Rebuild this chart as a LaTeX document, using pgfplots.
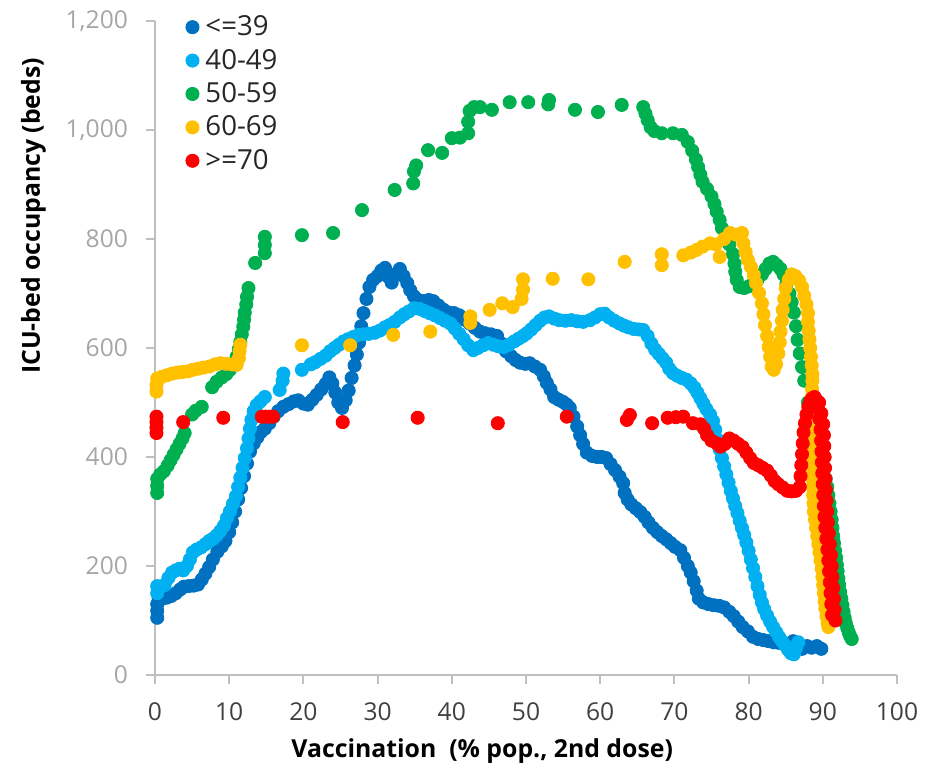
\documentclass[border=0pt]{standalone}
\usepackage{fontspec}
\setmainfont{Open Sans}
\usepackage{pgfplots}
\pgfplotsset{compat=1.18}
\definecolor{cA}{HTML}{0070C0}
\definecolor{cB}{HTML}{00B0F0}
\definecolor{cC}{HTML}{00B050}
\definecolor{cD}{HTML}{FFC000}
\definecolor{cE}{HTML}{FF0000}
\definecolor{axisgray}{HTML}{BFBFBF}
\definecolor{ytickgray}{HTML}{A6A6A6}
\definecolor{xtickgray}{HTML}{404040}
\newcommand{\tickfont}{\fontsize{12.3}{14.8}\selectfont}
\newcommand{\legfont}{\fontsize{13.8}{16}\selectfont}
\newcommand{\labelfont}{\fontsize{12.4}{15}\selectfont\bfseries}
\pgfplotsset{dots/.style={only marks, mark=*, mark size=3.3pt, color=#1, mark options={draw=none, fill=#1}}}

\begin{document}
\begin{tikzpicture}
\begin{axis}[
  scale only axis, width=371pt, height=327pt,
  xmin=0, xmax=100, ymin=0, ymax=1200,
  xtick={0,10,...,100}, ytick={0,200,...,1200},
  scaled y ticks=false,
  axis x line*=bottom, axis y line*=left,
  axis line style={draw=axisgray, line width=1pt},
  tick style={draw=axisgray, line width=1pt},
  tick align=outside, major tick length=4.5pt,
  x tick label style={font=\tickfont, text=xtickgray, yshift=-6pt},
  y tick label style={font=\tickfont, text=ytickgray, xshift=-5.5pt},
  /pgf/number format/1000 sep={,},
  /pgf/number format/assume math mode=true,
  xlabel={Vaccination\ \ (\% pop., 2nd dose)},
  ylabel={ICU-bed occupancy (beds)},
  label style={font=\labelfont},
  xlabel style={at={(axis description cs:0.441,-0.117)}, anchor=center},
  ylabel style={at={(axis description cs:-0.164,0.702)}, anchor=center},
  clip=false,
  legend style={at={(axis description cs:0.033,1.021)}, anchor=north west, draw=none, fill=none,
    font=\legfont, text=black!85, row sep=1.2pt, cells={anchor=west}},
  legend image code/.code={\draw[#1] plot coordinates {(0pt,0pt)}; \path[draw=none, fill=none] (0pt,0pt) rectangle (4.5pt,0.1pt);},
]
% <=39
\addplot[dots=cA] coordinates {
(0.3,105) (0.3,118) (0.3,130) (0.5,140) (1,140) (1.6,142) (2.2,145) (2.8,150) (3.4,157) (3.9,162)
(4.5,163) (5.2,164) (5.8,166) (6.3,175) (6.8,186) (7.3,198) (7.8,212) (8.4,226) (9,236) (9.5,246)
(10,262) (10.4,280) (10.8,300) (11.2,322) (11.6,343) (12,365) (12.4,388) (12.8,410) (13.3,425) (13.8,436)
(14.3,446) (14.8,452) (15.4,462) (16,474) (16.6,484) (17.3,492) (18,497) (18.7,502) (19.3,504) (20,498)
(20.6,496) (21.2,505) (21.8,514) (22.4,524) (23,534) (23.5,546) (23.9,535) (24.3,518) (24.7,500) (25.2,490)
(25.7,504) (26.1,522) (26.5,545) (26.9,568) (27.2,588) (27.5,610) (27.8,640) (28.1,664) (28.5,690) (28.9,712)
(29.4,725) (30,732) (30.5,742) (31,747) (31.5,730) (31.9,720) (32.4,735) (33,745) (33.5,732) (34,719)
(34.4,706) (34.9,695) (35.5,688) (36.2,686) (36.9,688) (37.5,686) (38.2,678) (38.9,670) (39.6,665) (40.3,664)
(41,660) (41.7,652) (42.4,645) (43.1,637) (43.8,630) (44.5,627) (45.3,625) (46.1,622) (46.7,608) (47.3,594)
(48,585) (48.6,578) (49.2,573) (49.9,571) (50.5,572) (51.2,566) (51.9,560) (52.4,548) (52.8,536) (53.3,524)
(53.8,510) (54.4,505) (55,501) (55.5,496) (55.9,490) (56.4,474) (56.9,456) (57.3,440) (57.7,424) (58.2,408)
(58.9,402) (59.6,400) (60.2,400) (60.8,398) (61.4,387) (62,376) (62.6,364) (63.1,352) (63.3,334) (63.7,322)
(64.2,313) (64.8,306) (65.4,299) (66,290) (66.5,280) (67.1,270) (67.7,262) (68.3,255) (68.9,249) (69.5,242)
(70.1,235) (70.8,229) (71.3,215) (71.8,200) (72.2,188) (72.6,172) (73,155) (73.3,140) (73.9,133) (74.6,130)
(75.3,128) (76,127) (76.7,124) (77.4,116) (78,108) (78.6,98) (79.2,88) (79.9,80) (80.6,70) (81.3,66)
(82,64) (82.7,62) (83.4,60) (84.1,59) (84.8,57) (85.4,55) (86,62) (86.5,50) (87.2,48) (87.9,53)
(88.5,50) (89.2,53) (89.8,48)
};
\addlegendentry{<=39}
% 40-49
\addplot[dots=cB] coordinates {
(0.3,150) (0.3,163) (0.8,162) (1.3,165) (1.8,178) (2.3,188) (2.8,192) (3.3,195) (3.8,192) (4.3,200)
(4.7,212) (5.1,225) (5.6,230) (6.2,234) (6.8,240) (7.3,246) (7.8,250) (8.3,256) (8.8,264) (9.3,274)
(9.7,288) (10.1,300) (10.5,314) (10.9,328) (11.2,345) (11.5,362) (11.8,380) (12.1,398) (12.4,416) (12.6,434)
(12.8,452) (13,468) (13.3,484) (13.7,495) (14.2,502) (14.8,510) (16.8,523) (17.2,540) (17.3,553) (19.8,560)
(21,570) (21.6,574) (22.3,580) (23,586) (23.6,594) (24.2,600) (24.8,606) (25.4,612) (26,616) (26.7,620)
(27.4,624) (28.1,625) (28.8,626) (29.6,628) (30.3,632) (31,638) (31.6,642) (32.3,648) (33,656) (33.6,662)
(34.2,667) (34.9,673) (35.6,672) (36.3,668) (37,664) (37.7,660) (38.4,655) (39.1,650) (39.8,645) (40.4,636)
(41,626) (41.6,616) (42.2,605) (42.9,596) (43.5,600) (44.2,605) (44.9,609) (45.6,606) (46.3,603) (47,602)
(47.7,606) (48.4,612) (49,617) (49.6,622) (50.1,627) (50.7,634) (51.3,642) (51.9,650) (52.5,656) (53.1,658)
(53.8,654) (54.5,651) (55.3,650) (56.1,651) (56.9,649) (57.7,648) (58.6,651) (59.3,656) (60,662) (60.6,663)
(61.2,656) (61.9,650) (62.6,645) (63.2,641) (63.8,638) (64.5,635) (65.2,634) (65.8,633) (66.4,622) (66.9,608)
(67.4,597) (67.9,589) (68.4,581) (68.9,573) (69.3,562) (69.8,554) (70.4,549) (71,545) (71.6,542) (72.2,535)
(72.7,527) (73.1,518) (73.5,508) (73.9,498) (74.3,488) (74.8,478) (75.2,466) (75.5,450) (75.8,432) (76.1,414)
(76.4,398) (76.7,383) (77,368) (77.3,353) (77.6,338) (77.9,324) (78.2,310) (78.5,297) (78.8,283) (79.1,270)
(79.4,257) (79.7,243) (80,228) (80.3,212) (80.6,196) (80.9,180) (81.2,163) (81.5,147) (81.8,133) (82.1,121)
(82.5,109) (82.9,98) (83.3,88) (83.7,79) (84.1,70) (84.5,62) (84.9,55) (85.3,47) (85.7,40) (86.1,38)
(86.4,50) (86.7,60)
};
\addlegendentry{40-49}
% 50-59
\addplot[dots=cC] coordinates {
(0.3,334) (0.3,347) (0.3,360) (0.7,368) (1.2,374) (1.7,384) (2.1,394) (2.5,404) (2.9,414) (3.3,424)
(3.7,434) (4,444) (5,478) (5.5,485) (6.3,492) (7.7,528) (8.3,538) (9,546) (9.6,552) (10.1,560)
(10.6,572) (11,584) (11.3,598) (11.5,611) (11.7,625) (11.9,639) (12,652) (12.1,665) (12.3,680) (12.4,694)
(12.6,710) (13.5,756) (14.8,774) (14.8,789) (14.8,804) (19.8,807) (24,811) (27.9,853) (32.3,890) (34.8,902)
(34.9,924) (35.2,935) (36.8,963) (38.7,958) (40,985) (41.1,986) (42.2,994) (42.2,1015) (42.4,1035) (43,1042)
(43.8,1042) (45.4,1037) (47.8,1051) (50.3,1051) (53,1047) (53.1,1055) (56.6,1037) (59.7,1033) (62.9,1046) (65.8,1042)
(66.1,1030) (66.4,1018) (66.8,1005) (67.3,998) (68.3,994) (69.8,994) (71,991) (71.8,978) (72.4,962) (72.9,946)
(73.2,932) (73.5,918) (73.8,905) (74.4,892) (75,878) (75.4,864) (75.7,850) (76.1,835) (76.4,820) (76.9,805)
(77.4,790) (77.9,772) (78.1,755) (78.2,740) (78.4,725) (78.8,712) (79.4,710) (80,713) (80.6,718) (81.2,725)
(81.8,735) (82.3,745) (82.8,755) (83.3,758) (83.8,752) (84.3,745) (84.7,735) (85.1,718) (85.5,700) (85.8,684)
(86.1,665) (86.4,640) (86.6,615) (86.9,590) (87.2,565) (87.5,540) (88,500) (88.5,465) (89,430) (89.5,400)
(90,375) (90.4,360) (90.6,345) (90.75,330) (90.9,315) (91.05,300) (91.2,285) (91.3,270) (91.4,255) (91.5,242)
(91.65,228) (91.8,215) (91.9,202) (92,190) (92.1,177) (92.2,165) (92.35,152) (92.5,140) (92.65,128) (92.8,116)
(92.95,105) (93.1,95) (93.3,86) (93.5,78) (93.7,71) (93.9,66)
};
\addlegendentry{50-59}
% 60-69
\addplot[dots=cD] coordinates {
(0.2,520) (0.2,532) (0.3,544) (0.9,547) (1.6,550) (2.3,553) (3,555) (3.7,556) (4.4,557) (5.1,560)
(5.8,562) (6.5,564) (7.3,566) (8.1,570) (8.8,572) (9.6,571) (10.4,570) (11,569) (11.3,581) (11.4,594)
(11.5,606) (19.8,605) (26.3,605) (32.1,624) (37.1,630) (42.5,646) (42.5,658) (45.1,670) (46.8,682) (48.2,675)
(49.4,690) (49.6,707) (49.6,726) (53.6,727) (58.4,726) (63.3,758) (68.3,752) (68.3,772) (71.2,770) (72.2,775)
(73,780) (73.8,786) (74.8,792) (75.6,790) (76.1,767) (76.7,800) (77.5,811) (78.3,808) (79.1,811) (79.3,792)
(79.6,776) (79.9,762) (80.3,749) (80.7,734) (81,719) (81.4,701) (81.8,682) (82,662) (82.2,642) (82.5,622)
(82.7,602) (82.9,584) (83.1,566) (83.4,560) (83.7,570) (84,590) (84.2,610) (84.3,630) (84.5,650) (84.6,670)
(84.8,690) (85,710) (85.4,725) (85.8,735) (86.3,732) (86.8,724) (87.2,712) (87.5,696) (87.8,680) (88,664)
(88,648) (88.1,632) (88.2,616) (88.3,600) (88.4,584) (88.5,568) (88.6,552) (88.6,540) (88.55,525) (88.5,510)
(88.5,495) (88.5,480) (88.5,465) (88.5,450) (88.5,435) (88.5,420) (88.5,405) (88.5,390) (88.55,375) (88.6,360)
(88.65,345) (88.7,330) (88.75,315) (88.8,300) (88.95,285) (89.1,270) (89.25,255) (89.4,240) (89.55,225) (89.7,210)
(89.85,195) (89.95,180) (90.05,165) (90.15,150) (90.25,135) (90.35,122) (90.5,108) (90.65,95) (90.75,88)
};
\addlegendentry{60-69}
% >=70
\addplot[dots=cE] coordinates {
(0.2,444) (0.2,454) (0.2,464) (0.2,474) (3.8,464) (9.2,472) (14.4,474) (14.9,474) (15.4,474) (15.9,474)
(25.3,464) (35.4,472) (46.2,462) (55.5,474) (63.6,468) (64,477) (67,462) (69.1,472) (70.2,473) (71.2,474)
(72.5,462) (73.5,460) (74,452) (74.4,440) (75,430) (75.7,425) (76.2,419) (76.8,424) (77.4,434) (78,430)
(78.6,424) (79.2,418) (79.7,408) (80.2,398) (80.7,389) (81.3,385) (81.9,380) (82.5,375) (83,366) (83.5,356)
(84,350) (84.6,344) (85.2,338) (85.8,337) (86.4,338) (86.9,345) (87,365) (87.1,385) (87.2,405) (87.3,425)
(87.4,445) (87.6,462) (87.8,478) (88.05,492) (88.3,502) (88.6,508) (88.9,510) (89.1,505)
(89.25,490) (89.53,470) (89.7,450) (89.78,430) (89.83,410) (89.88,390) (89.93,370) (89.99,350) (90.06,330) (90.14,310)
(90.23,290) (90.34,270) (90.48,250) (90.63,230) (90.75,210) (90.85,190) (90.95,170) (91.05,150) (91.15,130) (91.25,110)
(89.5,500) (89.8,480) (90.05,460) (90.15,440) (90.2,420) (90.25,400) (90.3,380) (90.35,360) (90.42,340) (90.5,320)
(90.58,300) (90.68,280) (90.8,260) (90.95,240) (91.1,220) (91.2,200) (91.3,180) (91.4,160) (91.5,140) (91.6,120)
(91.7,100)
};
\addlegendentry{>=70}
\coordinate (O) at (axis cs:0,0);
\end{axis}
\pgfresetboundingbox
\path[use as bounding box] ([shift={(-77.5pt,-47.5pt)}]O) rectangle ([shift={(389pt,337.5pt)}]O);
\end{tikzpicture}
\end{document}
